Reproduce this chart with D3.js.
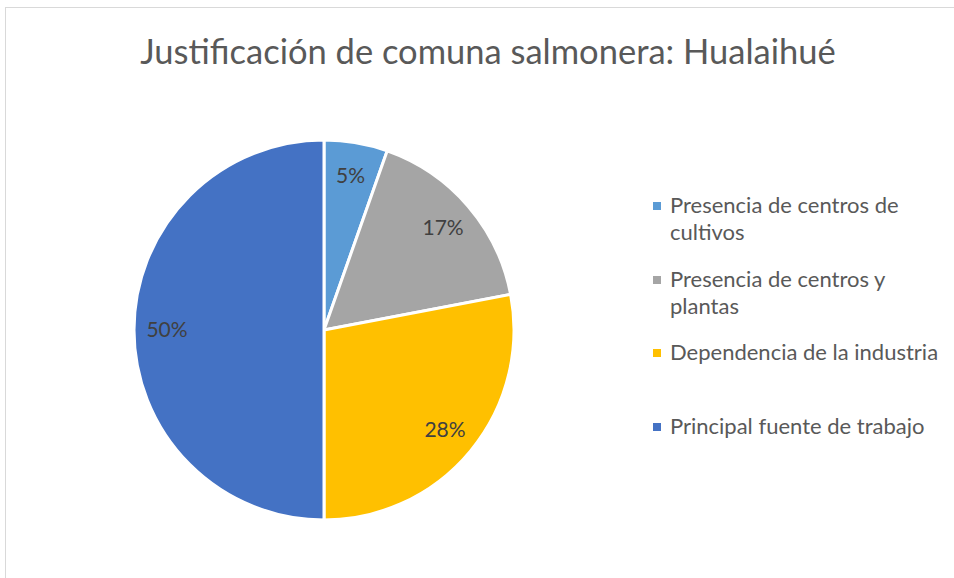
<!DOCTYPE html>
<html>
<head>
<meta charset="utf-8">
<script src="https://cdn.jsdelivr.net/npm/d3@7"></script>
<style>
  body { margin: 0; background: #fff; }
  svg { display: block; font-family: Lato, "Open Sans", sans-serif; }
</style>
</head>
<body>
<svg id="chart"></svg>
<script>
// chart data
let categories = ['Presencia de centros de cultivos', 'Presencia de centros y plantas',
                  'Dependencia de la industria', 'Principal fuente de trabajo']
let values = [5.4, 16.6, 28, 50]
let colors = ['#5B9BD5', '#A5A5A5', '#FFC000', '#4472C4']
let legendLines = [['Presencia de centros de', 'cultivos'], ['Presencia de centros y', 'plantas'],
                   ['Dependencia de la industria'], ['Principal fuente de trabajo']]

let width = 954
let height = 578
let cx = 324, cy = 330
let radius = 190

let svg = d3.select('#chart')
            .attr('width', width)
            .attr('height', height)

// chart area border (only top and left show in the frame)
svg.append('rect')
    .attr('x', 5.5).attr('y', 7.5)
    .attr('width', width + 10).attr('height', height + 10)
    .attr('fill', 'none')
    .attr('stroke', '#d9d9d9')
    .attr('stroke-width', 1)

svg.append('text')
    .attr('x', 488).attr('y', 64)
    .attr('text-anchor', 'middle')
    .attr('font-size', 34.5)
    .attr('fill', '#595959')
    .text('Justificación de comuna salmonera: Hualaihué')

let total = d3.sum(values)
let pie = d3.pie().sort(null).value(d => d)
let arcs = pie(values)
let arc = d3.arc().innerRadius(0).outerRadius(radius)
let labelArc = d3.arc().innerRadius(157).outerRadius(157)

let g = svg.append('g').attr('transform', 'translate(' + cx + ',' + cy + ')')

g.selectAll('path')
    .data(arcs)
    .enter()
    .append('path')
    .attr('d', arc)
    .attr('fill', (d, i) => colors[i])
    .attr('stroke', '#fff')
    .attr('stroke-width', 3)
    .attr('stroke-linejoin', 'round')

g.selectAll('text.label')
    .data(arcs)
    .enter()
    .append('text')
    .attr('class', 'label')
    .attr('transform', d => 'translate(' + labelArc.centroid(d) + ')')
    .attr('text-anchor', 'middle')
    .attr('dy', '0.35em')
    .attr('font-size', 21)
    .attr('fill', '#404040')
    .text(d => Math.round(d.value / total * 100) + '%')

// legend
let legendY = [206, 280, 353, 427]
let legend = svg.append('g')
legendLines.forEach((lines, i) => {
    legend.append('rect')
        .attr('x', 653).attr('y', legendY[i] - 4)
        .attr('width', 8).attr('height', 8)
        .attr('fill', colors[i])
    let t = legend.append('text')
        .attr('x', 670).attr('y', legendY[i] + 7)
        .attr('font-size', 22)
        .attr('fill', '#595959')
    lines.forEach((line, j) => {
        t.append('tspan')
            .attr('x', 670)
            .attr('dy', j === 0 ? 0 : 27)
            .text(line)
    })
})
</script>
</body>
</html>
